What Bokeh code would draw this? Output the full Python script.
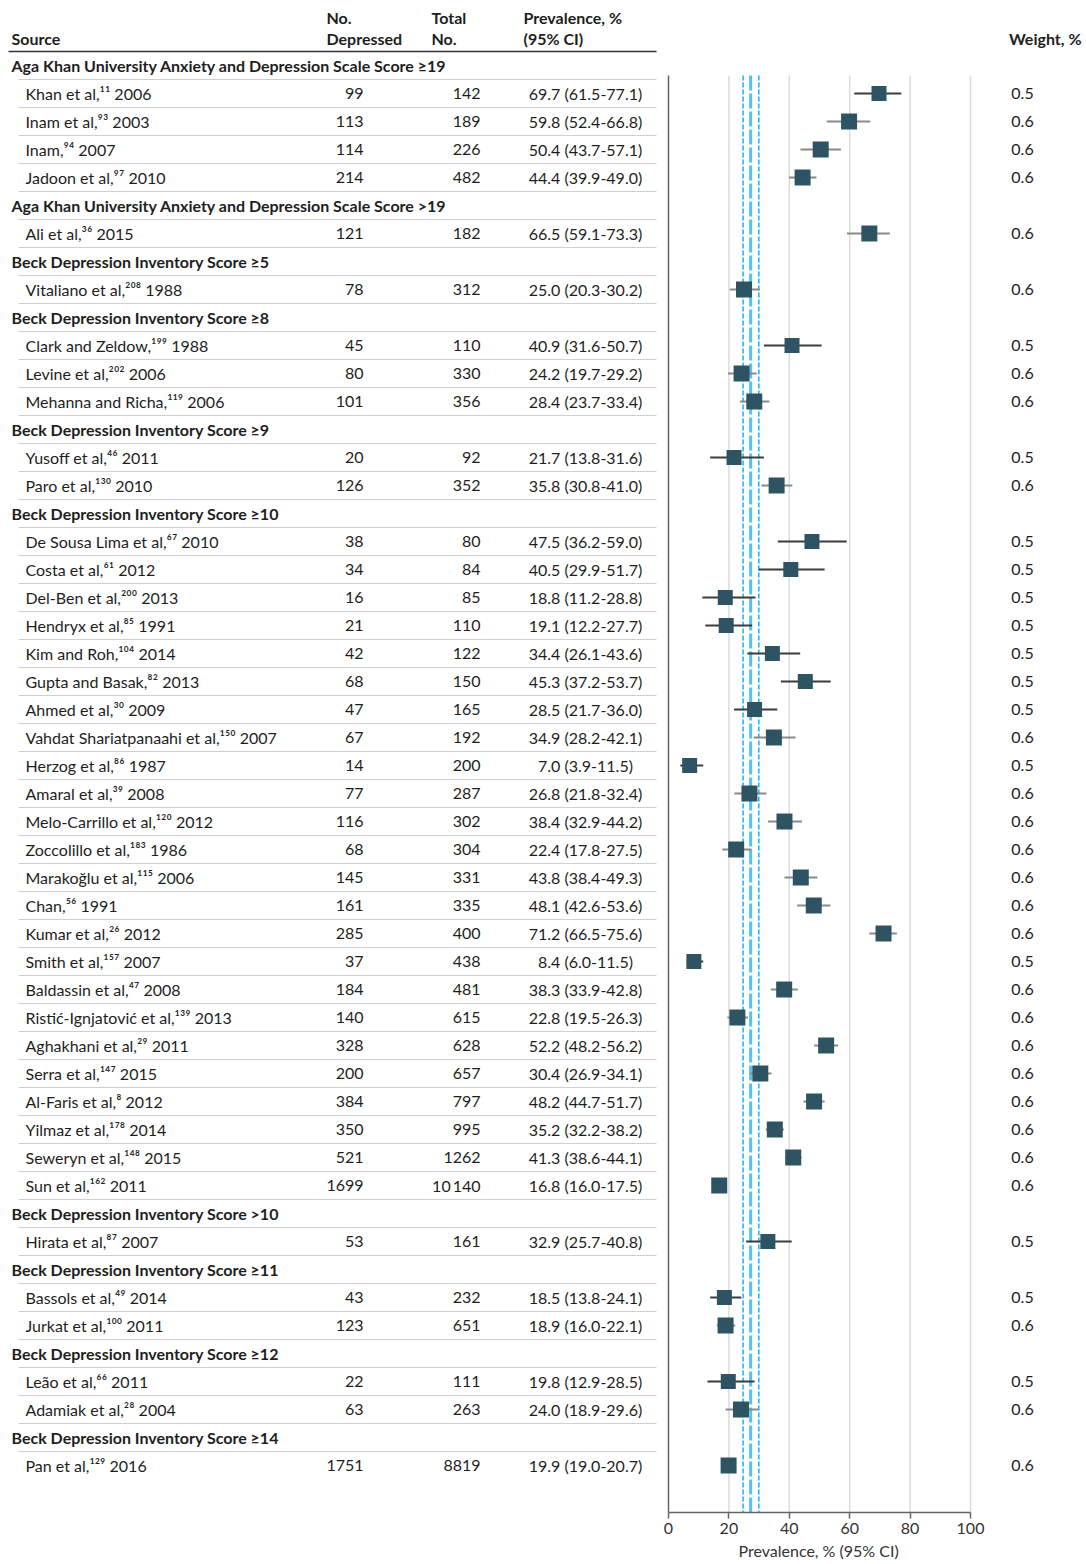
from bokeh.plotting import figure
from bokeh.models import Range1d, ColumnDataSource, FixedTicker, Title
from bokeh.core.properties import value
from bokeh.embed import file_html
from bokeh.resources import INLINE

# ---------------- data ----------------
group_names = [
    "Aga Khan University Anxiety and Depression Scale Score \u226519",
    "Aga Khan University Anxiety and Depression Scale Score >19",
    "Beck Depression Inventory Score \u22655",
    "Beck Depression Inventory Score \u22658",
    "Beck Depression Inventory Score \u22659",
    "Beck Depression Inventory Score \u226510",
    "Beck Depression Inventory Score >10",
    "Beck Depression Inventory Score \u226511",
    "Beck Depression Inventory Score \u226512",
    "Beck Depression Inventory Score \u226514",
]
group_sizes = [4, 1, 1, 3, 2, 24, 1, 2, 2, 1]

authors = [
    "Khan et al", "Inam et al", "Inam", "Jadoon et al",
    "Ali et al",
    "Vitaliano et al",
    "Clark and Zeldow", "Levine et al", "Mehanna and Richa",
    "Yusoff et al", "Paro et al",
    "De Sousa Lima et al", "Costa et al", "Del-Ben et al", "Hendryx et al",
    "Kim and Roh", "Gupta and Basak", "Ahmed et al", "Vahdat Shariatpanaahi et al",
    "Herzog et al", "Amaral et al", "Melo-Carrillo et al", "Zoccolillo et al",
    "Marako\u011flu et al", "Chan", "Kumar et al", "Smith et al", "Baldassin et al",
    "Risti\u0107-Ignjatovi\u0107 et al", "Aghakhani et al", "Serra et al", "Al-Faris et al",
    "Yilmaz et al", "Seweryn et al", "Sun et al",
    "Hirata et al",
    "Bassols et al", "Jurkat et al",
    "Le\u00e3o et al", "Adamiak et al",
    "Pan et al",
]
refs = [11, 93, 94, 97, 36, 208, 199, 202, 119, 46, 130,
        67, 61, 200, 85, 104, 82, 30, 150, 86, 39, 120, 183, 115, 56, 26, 157,
        47, 139, 29, 147, 8, 178, 148, 162,
        87, 49, 100, 66, 28, 129]
years = [2006, 2003, 2007, 2010, 2015, 1988, 1988, 2006, 2006, 2011, 2010,
         2010, 2012, 2013, 1991, 2014, 2013, 2009, 2007, 1987, 2008, 2012, 1986,
         2006, 1991, 2012, 2007, 2008, 2013, 2011, 2015, 2012, 2014, 2015, 2011,
         2007, 2014, 2011, 2011, 2004, 2016]
n_depressed = [99, 113, 114, 214, 121, 78, 45, 80, 101, 20, 126,
               38, 34, 16, 21, 42, 68, 47, 67, 14, 77, 116, 68, 145, 161, 285, 37,
               184, 140, 328, 200, 384, 350, 521, 1699,
               53, 43, 123, 22, 63, 1751]
n_total = [142, 189, 226, 482, 182, 312, 110, 330, 356, 92, 352,
           80, 84, 85, 110, 122, 150, 165, 192, 200, 287, 302, 304, 331, 335, 400, 438,
           481, 615, 628, 657, 797, 995, 1262, 10140,
           161, 232, 651, 111, 263, 8819]
prevalence = [69.7, 59.8, 50.4, 44.4, 66.5, 25.0, 40.9, 24.2, 28.4, 21.7, 35.8,
              47.5, 40.5, 18.8, 19.1, 34.4, 45.3, 28.5, 34.9, 7.0, 26.8, 38.4, 22.4,
              43.8, 48.1, 71.2, 8.4, 38.3, 22.8, 52.2, 30.4, 48.2, 35.2, 41.3, 16.8,
              32.9, 18.5, 18.9, 19.8, 24.0, 19.9]
ci_low = [61.5, 52.4, 43.7, 39.9, 59.1, 20.3, 31.6, 19.7, 23.7, 13.8, 30.8,
          36.2, 29.9, 11.2, 12.2, 26.1, 37.2, 21.7, 28.2, 3.9, 21.8, 32.9, 17.8,
          38.4, 42.6, 66.5, 6.0, 33.9, 19.5, 48.2, 26.9, 44.7, 32.2, 38.6, 16.0,
          25.7, 13.8, 16.0, 12.9, 18.9, 19.0]
ci_high = [77.1, 66.8, 57.1, 49.0, 73.3, 30.2, 50.7, 29.2, 33.4, 31.6, 41.0,
           59.0, 51.7, 28.8, 27.7, 43.6, 53.7, 36.0, 42.1, 11.5, 32.4, 44.2, 27.5,
           49.3, 53.6, 75.6, 11.5, 42.8, 26.3, 56.2, 34.1, 51.7, 38.2, 44.1, 17.5,
           40.8, 24.1, 22.1, 28.5, 29.6, 20.7]
weights = [0.5, 0.6, 0.6, 0.6, 0.6, 0.6, 0.5, 0.6, 0.6, 0.5, 0.6,
           0.5, 0.5, 0.5, 0.5, 0.5, 0.5, 0.5, 0.6, 0.5, 0.6, 0.6, 0.6,
           0.6, 0.6, 0.6, 0.5, 0.6, 0.6, 0.6, 0.6, 0.6, 0.6, 0.6, 0.6,
           0.5, 0.5, 0.6, 0.5, 0.6, 0.6]
pooled_est = 27.2
pooled_low = 24.7
pooled_high = 29.9
x_ticks = [0, 20, 40, 60, 80, 100]
x_title = "Prevalence, %  (95% CI)"

# ---------------- layout helpers ----------------
ROW0 = 65.0      # px y of first row
ROWH = 28.0      # px per row
X0PX = 668.0     # px x of value 0
XSCALE = 3.02    # px per unit
FRAME_W, FRAME_H = 1084, 1512


def px(x):
    return (x - X0PX) / XSCALE


def py(y):
    return (y - ROW0) / ROWH


SUP = str.maketrans("0123456789", "\u2070\u00b9\u00b2\u00b3\u2074\u2075\u2076\u2077\u2078\u2079")

FONT = value("Lato")
FS = "16px"
TXT = "#1e1e1e"

# build rows
grp_rows, grp_labels = [], []
st_rows = []
r = 0
for g, n in zip(group_names, group_sizes):
    grp_rows.append(r)
    grp_labels.append(g)
    r += 1
    for _ in range(n):
        st_rows.append(r)
        r += 1
n_rows = r


def fmt_int(v):
    return f"{v:,}".replace(",", "\u2009") if v >= 10000 else str(v)


study_labels = [f"{a},{str(rf).translate(SUP)} {y}" for a, rf, y in zip(authors, refs, years)]
prev_labels = [f"{e:.1f} ({lo:.1f}-{hi:.1f})" for e, lo, hi in zip(prevalence, ci_low, ci_high)]

src = ColumnDataSource(dict(
    y=st_rows, label=study_labels, dep=[fmt_int(v) for v in n_depressed],
    tot=[fmt_int(v) for v in n_total], prev=prev_labels,
    est=prevalence, lo=ci_low, hi=ci_high,
    w=[f"{w:.1f}" for w in weights],
    size=[10 + 10 * w for w in weights],
    ci_color=["#3c3c3c" if w < 0.55 else "#8a8a8a" for w in weights],
))

p = figure(frame_width=FRAME_W, frame_height=FRAME_H, output_backend="svg", toolbar_location=None,
           x_range=Range1d(px(0), px(FRAME_W)),
           y_range=Range1d(py(FRAME_H), py(0)),
           y_axis_location=None, min_border_left=0, min_border_right=0,
           min_border_top=0, min_border_bottom=0, title=None)
p.outline_line_color = None
p.xgrid.visible = False
p.ygrid.visible = False

# x axis limited to 0-100
ax = p.xaxis[0]
ax.bounds = (0, 100)
ax.ticker = FixedTicker(ticks=x_ticks)
ax.minor_tick_line_color = None
ax.major_tick_in = 0
ax.major_tick_out = 6
ax.major_tick_line_color = "#666666"
ax.major_tick_line_width = 1.5
ax.axis_line_color = "#666666"
ax.axis_line_width = 1.5
ax.major_label_text_font = "Lato"
ax.major_label_text_font_size = FS
ax.major_label_text_color = "#333333"
ax.major_label_standoff = 4

# axis title placed below the axis, under the 0-100 span
p.add_layout(Title(text=x_title, align="left", offset=738,
                   text_font="Lato", text_font_size=FS, text_font_style="normal",
                   text_color="#333333", standoff=5), "below")

plot_top = py(75)
plot_bot = py(FRAME_H)

# gridlines
p.segment(x0=x_ticks[1:], x1=x_ticks[1:], y0=plot_top, y1=plot_bot,
          line_color="#dcdcdc", line_width=1.5)
# left vertical line of the plot
p.segment(x0=[0], x1=[0], y0=[plot_top], y1=[plot_bot], line_color="#666666", line_width=1.5)

# pooled estimate lines
p.segment(x0=[pooled_low, pooled_high], x1=[pooled_low, pooled_high], y0=plot_top, y1=plot_bot,
          line_color="#16b3ee", line_width=1.5, line_dash="5 2")
p.segment(x0=[pooled_est], x1=[pooled_est], y0=[plot_top], y1=[plot_bot],
          line_color="#52c4f0", line_width=3, line_dash="15 3")

# CIs and markers
p.segment(x0="lo", x1="hi", y0="y", y1="y", source=src, line_color="ci_color", line_width=2)
p.scatter(x="est", y="y", size="size", marker="square", source=src,
          fill_color="#2e5464", line_color="#2e5464", line_width=0)

# table separators
sep_y = [i + 0.5 for i in range(n_rows - 1)]
p.segment(x0=px(18), x1=px(656), y0=sep_y, y1=sep_y, line_color="#cfcfcf", line_width=1)
p.segment(x0=[px(8)], x1=[px(656)], y0=[py(51)], y1=[py(51)], line_color="#333333", line_width=1.5)

common = dict(text_font=FONT, text_font_size=FS, text_color=TXT, text_baseline="middle")
hdr = dict(common, text_font_style="bold")

# header
p.text(x=[px(11)], y=[py(38)], text=["Source"], **hdr)
p.text(x=[px(326), px(431), px(523)], y=[py(17)] * 3, text=["No.", "Total", "Prevalence, %"], **hdr)
p.text(x=[px(326), px(431), px(523)], y=[py(38)] * 3, text=["Depressed", "No.", "(95% CI)"], **hdr)
p.text(x=[px(1081)], y=[py(38)], text=["Weight, %"], text_align="right", **hdr)

# group headings
p.text(x=px(11), y=grp_rows, text=grp_labels, **hdr)

# study rows
p.text(x=px(25), y="y", text="label", source=src, **common)
p.text(x=px(363), y="y", text="dep", source=src, text_align="right", **common)
p.text(x=px(480), y="y", text="tot", source=src, text_align="right", **common)
p.text(x=px(585), y="y", text="prev", source=src, text_align="center", **common)
p.text(x=px(1022), y="y", text="w", source=src, text_align="center", **common)

open("out.html", "w").write(file_html(p, INLINE))
